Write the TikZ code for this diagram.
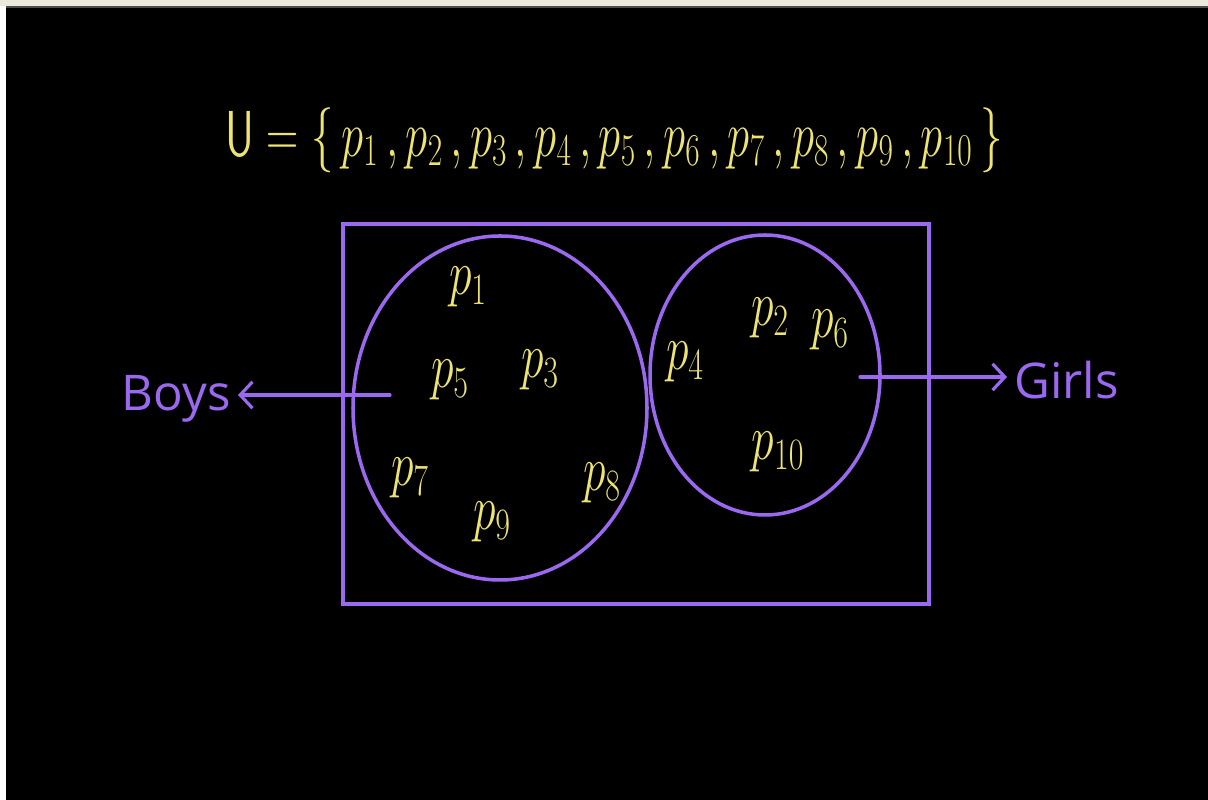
\RequirePackage{fix-cm}
\documentclass[tikz,border=0pt]{standalone}
\usepackage{fontspec}
\newfontfamily\handfont{Open Sans}
\definecolor{Chalkpurple}{RGB}{155,105,240}
\definecolor{Chalkyellow}{RGB}{238,228,115}
\definecolor{Barbeige}{RGB}{236,233,220}
\usetikzlibrary{arrows.meta, positioning, shapes.geometric}
\newcommand{\tallp}[1]{\scalebox{1}[1.4]{$p_{#1}$}}

\begin{document}
\begin{tikzpicture}[
  setline/.style={draw=Chalkpurple, line width=2pt},
  setblob/.style={ellipse, draw=Chalkpurple, line width=2pt, inner sep=0pt},
  elem/.style={text=Chalkyellow, font=\fontsize{26}{30}\selectfont, inner sep=0pt},
  tag/.style={text=Chalkpurple, font=\handfont\fontsize{28}{34}\selectfont, inner sep=4pt},
  ptarr/.style={-{Straight Barb[length=7pt, width=15pt]}, draw=Chalkpurple,
                line width=1.8pt, line cap=round}
]
\useasboundingbox (0,0) rectangle (24.16,16);

%% --- BACKGROUND ---
\fill[black] (0,0) rectangle (24.16,16);
\fill[white] (0,0) rectangle (0.12,16);
\fill[Barbeige] (0,15.88) rectangle (24.16,16);
\fill[gray!60!black] (0.12,15.84) rectangle (24.16,15.88);

%% --- UNIVERSAL SET ---
\node[text=Chalkyellow, font=\fontsize{25.5}{30}\selectfont] (uset) at (12.28,13.2)
  {\scalebox{1}[1.45]{$\mathsf{U} = \{\, p_1\, , p_2\, , p_3\, , p_4\, , p_5\, , p_6\, , p_7\, , p_8\, , p_9\, , p_{10} \,\}$}};

%% --- BOX AND SETS ---
\draw[setline, line width=2.4pt] (6.86,3.92) rectangle (18.58,11.52);
\node[setblob, minimum width=5.88cm, minimum height=6.88cm] (boyset) at (10.0,7.84) {};
\node[setblob, minimum width=4.60cm, minimum height=5.60cm] (girlset) at (15.3,8.5) {};

%% --- ELEMENTS ---
\node[elem] (p1) at (9.36,10.26) {\tallp{1}};
\node[elem] (p5) at (9.0,8.4) {\tallp{5}};
\node[elem] (p3) at (10.8,8.6) {\tallp{3}};
\node[elem] (p7) at (8.2,6.44) {\tallp{7}};
\node[elem] (p9) at (9.84,5.56) {\tallp{9}};
\node[elem] (p8) at (12.04,6.34) {\tallp{8}};
\node[elem] (p4) at (13.7,8.76) {\tallp{4}};
\node[elem] (p2) at (15.4,9.64) {\tallp{2}};
\node[elem] (p6) at (16.6,9.4) {\tallp{6}};
\node[elem] (p10) at (15.56,6.96) {\tallp{10}};

%% --- LABELS ---
\coordinate (boystail) at (7.8,8.1);
\node[tag, anchor=mid east] (boys) at (4.76,7.86) {Boys};
\draw[ptarr] (boystail) -- (boystail -| boys.east);

\coordinate (girlstail) at (17.2,8.46);
\node[tag, anchor=mid west] (girls) at (20.14,8.1) {Girls};
\draw[ptarr] (girlstail) -- (girlstail -| girls.west);

\end{tikzpicture}
\end{document}
